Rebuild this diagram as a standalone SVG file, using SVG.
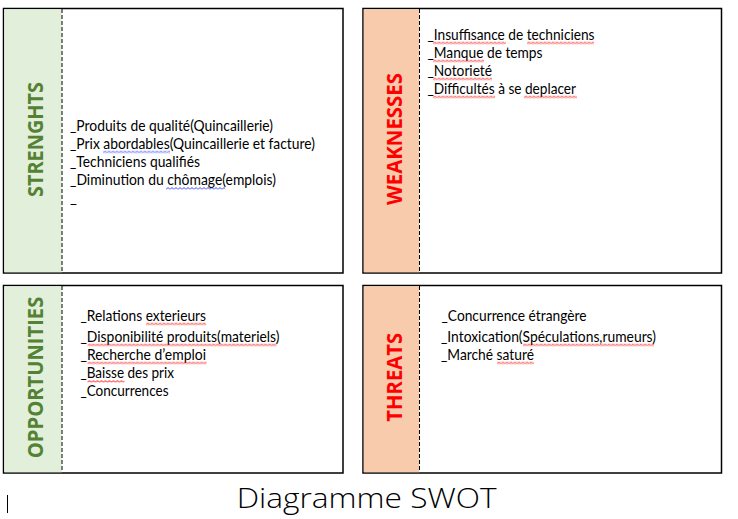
<svg xmlns="http://www.w3.org/2000/svg" width="738" height="519" viewBox="0 0 738 519">
<defs>
<pattern id="sqRed" width="4" height="3" patternUnits="userSpaceOnUse"><path d="M0 2.5 L2 0.5 L4 2.5" fill="none" stroke="#FF0000" stroke-width="1"/></pattern>
<pattern id="sqBlue" width="4" height="3" patternUnits="userSpaceOnUse"><path d="M0 2.5 L2 0.5 L4 2.5" fill="none" stroke="#3344FF" stroke-width="1"/></pattern>
</defs>
<style>
.box{fill:#fff;stroke:#000;stroke-width:1.5}
.sg{fill:#E2EFDA}
.sp{fill:#F8CBAD}
.dash{stroke:#000;stroke-width:1;stroke-dasharray:4 2;fill:none}
.t{font-family:Lato,"Open Sans","Liberation Sans",sans-serif;font-size:15px;fill:#000}
.lbl{font-family:"Open Sans","Noto Sans","Liberation Sans",sans-serif;font-size:21px;font-weight:bold;text-anchor:middle}
.g{fill:#548235}
.r{fill:#FF0000}
.title{font-family:"Open Sans",Lato,"Liberation Sans",sans-serif;font-size:28px;font-weight:300;fill:#000}
.sr{fill:url(#sqRed)}
.sb{fill:url(#sqBlue)}
</style>

<g id="strengths">
<rect class="box" x="3.5" y="8.5" width="339.5" height="264.5"/>
<rect class="sg" x="4.25" y="9.25" width="57.5" height="263"/>
<line class="dash" x1="62" y1="9" x2="62" y2="272"/>
<text class="lbl g" transform="translate(42.5,139.5) rotate(-90)" textLength="115" lengthAdjust="spacingAndGlyphs">STRENGHTS</text>
<text class="t" x="70" y="130.5" textLength="203" lengthAdjust="spacingAndGlyphs">_Produits de qualité(Quincaillerie)</text>
<text class="t" x="70" y="148.5" textLength="245" lengthAdjust="spacingAndGlyphs">_Prix abordables(Quincaillerie et facture)</text>
<text class="t" x="70" y="166.5" textLength="130" lengthAdjust="spacingAndGlyphs">_Techniciens qualifiés</text>
<text class="t" x="70" y="184.5" textLength="206" lengthAdjust="spacingAndGlyphs">_Diminution du chômage(emplois)</text>
<text class="t" x="70" y="202.5">_</text>
<g transform="translate(103,150.5)"><rect class="sb" width="67" height="3"/></g>
<g transform="translate(166,187)"><rect class="sb" width="59" height="3"/></g>
</g>

<g id="weaknesses">
<rect class="box" x="363" y="8.5" width="358.5" height="264.5"/>
<rect class="sp" x="363.75" y="9.25" width="55.5" height="263"/>
<line class="dash" x1="419.5" y1="9" x2="419.5" y2="272"/>
<text class="lbl r" transform="translate(401.7,139) rotate(-90)" textLength="132" lengthAdjust="spacingAndGlyphs">WEAKNESSES</text>
<text class="t" x="427.5" y="40" textLength="167" lengthAdjust="spacingAndGlyphs">_Insuffisance de techniciens</text>
<text class="t" x="427.5" y="58" textLength="115" lengthAdjust="spacingAndGlyphs">_Manque de temps</text>
<text class="t" x="427.5" y="76" textLength="64.5" lengthAdjust="spacingAndGlyphs">_Notorieté</text>
<text class="t" x="427.5" y="94" textLength="148.5" lengthAdjust="spacingAndGlyphs">_Difficultés à se deplacer</text>
<g transform="translate(433,41.5)"><rect class="sr" width="73" height="3"/></g>
<g transform="translate(527,41.5)"><rect class="sr" width="67" height="3"/></g>
<g transform="translate(433,59.5)"><rect class="sr" width="51" height="3"/></g>
<g transform="translate(433,77.5)"><rect class="sr" width="59" height="3"/></g>
<g transform="translate(433,95.5)"><rect class="sr" width="62" height="3"/></g>
<g transform="translate(524,95.5)"><rect class="sr" width="53" height="3"/></g>
</g>

<g id="opportunities">
<rect class="box" x="3.5" y="285.5" width="339.5" height="187.5"/>
<rect class="sg" x="4.25" y="286.25" width="57.5" height="186"/>
<line class="dash" x1="62" y1="286" x2="62" y2="472"/>
<text class="lbl g" transform="translate(42.5,377.5) rotate(-90)" textLength="161.5" lengthAdjust="spacingAndGlyphs">OPPORTUNITIES</text>
<text class="t" x="80.5" y="321" textLength="125.5" lengthAdjust="spacingAndGlyphs">_Relations exterieurs</text>
<text class="t" x="80.5" y="341.5" textLength="199" lengthAdjust="spacingAndGlyphs">_Disponibilité produits(materiels)</text>
<text class="t" x="80.5" y="359.5" textLength="125.5" lengthAdjust="spacingAndGlyphs">_Recherche d’emploi</text>
<text class="t" x="80.5" y="378" textLength="93.5" lengthAdjust="spacingAndGlyphs">_Baisse des prix</text>
<text class="t" x="80.5" y="396" textLength="88" lengthAdjust="spacingAndGlyphs">_Concurrences</text>
<g transform="translate(146,322.5)"><rect class="sr" width="60" height="3"/></g>
<g transform="translate(87.5,343.5)"><rect class="sr" width="189" height="3"/></g>
<g transform="translate(87.5,361.5)"><rect class="sr" width="119" height="3"/></g>
<g transform="translate(87.5,380)"><rect class="sr" width="37" height="3"/></g>
</g>

<g id="threats">
<rect class="box" x="363" y="285.5" width="358.5" height="187.5"/>
<rect class="sp" x="363.75" y="286.25" width="55.5" height="186"/>
<line class="dash" x1="419.5" y1="286" x2="419.5" y2="472"/>
<text class="lbl r" transform="translate(401.7,377.3) rotate(-90)" textLength="88.7" lengthAdjust="spacingAndGlyphs">THREATS</text>
<text class="t" x="441.5" y="321" textLength="145" lengthAdjust="spacingAndGlyphs">_Concurrence étrangère</text>
<text class="t" x="441" y="341.5" textLength="215" lengthAdjust="spacingAndGlyphs">_Intoxication(Spéculations,rumeurs)</text>
<text class="t" x="441" y="359.5" textLength="93" lengthAdjust="spacingAndGlyphs">_Marché saturé</text>
<g transform="translate(523,343.5)"><rect class="sr" width="131" height="3"/></g>
<g transform="translate(497,361.5)"><rect class="sr" width="37" height="3"/></g>
</g>

<g id="caption">
<text class="title" x="236.7" y="508.3" textLength="260" lengthAdjust="spacingAndGlyphs">Diagramme SWOT</text>
<line x1="7.5" y1="495" x2="7.5" y2="513" stroke="#000" stroke-width="1"/>
</g>
<g id="connectors"/>
</svg>
